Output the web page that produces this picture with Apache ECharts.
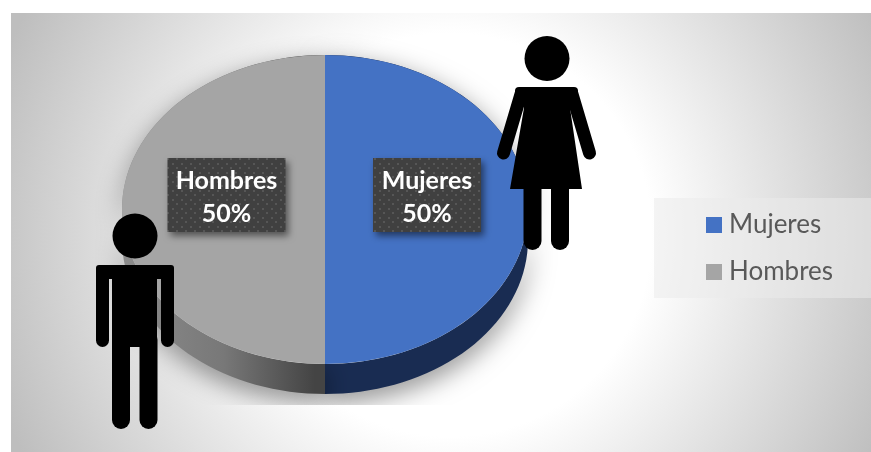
<!DOCTYPE html>
<html><head><meta charset="utf-8">
<style>html,body{margin:0;padding:0;background:#fff}#c{width:871px;height:452px}</style>
<script src="https://cdn.jsdelivr.net/npm/echarts@6/dist/echarts.min.js"></script>
</head><body><div id="c"></div>
<script>
const categories = ['Mujeres', 'Hombres'];
const shares = [50, 50];
const topColors = ['#4472c4', '#a5a5a5'];

const chart = echarts.init(document.getElementById('c'), null, {renderer:'canvas'});
const total = shares.reduce((a,b)=>a+b,0);
const CX=325, CY=209.5, RX=203, RY=154.5, DEPTH=30;

const tile = document.createElement('canvas'); tile.width=9; tile.height=9;
(function(){const g=tile.getContext('2d');g.fillStyle='#404040';g.fillRect(0,0,9,9);
 g.fillStyle='#565656';g.fillRect(1,1,2,2);g.fillRect(5,5,2,2);})();

function sliceRenderer(i){
  return function(params, api){
    const v = api.value(0);
    let before = 0; for(let k=0;k<i;k++) before += shares[k];
    const a0 = before/total*2*Math.PI, a1 = (before+v)/total*2*Math.PI;
    const pt = (a,dy)=>[CX+RX*Math.sin(a), CY-RY*Math.cos(a)+dy];
    const pts=[]; const n=72;
    for(let s=0;s<=n;s++) pts.push(pt(a0+(a1-a0)*s/n,DEPTH));
    for(let s=n;s>=0;s--) pts.push(pt(a0+(a1-a0)*s/n,0));
    const sideFill = i===0 ? '#192c52'
      : new echarts.graphic.LinearGradient(0,0,1,0,[{offset:0,color:'#8c8c8c'},{offset:0.5,color:'#787878'},{offset:0.95,color:'#444444'},{offset:1,color:'#444444'}]);
    const mid=(a0+a1)/2;
    const lx = CX+RX*0.5*Math.sin(mid) + (i===0?0.5:3), ly = CY-14.5;
    const w = i===0?108:118, h=74;
    return {type:'group',children:[
      {type:'polygon',z2:0,shape:{points:pts},style:{fill:sideFill,shadowBlur:26,shadowOffsetY:8,shadowColor:'rgba(0,0,0,0.45)'}},
      {type:'sector',z2:1,x:CX,y:CY,scaleY:RY/RX,
        shape:{cx:0,cy:0,r0:0,r:RX,startAngle:a0-Math.PI/2,endAngle:a1-Math.PI/2,clockwise:true},
        style:{fill:topColors[i]}},
      {type:'rect',z2:2,shape:{x:lx-w/2,y:ly-h/2,width:w,height:h},
        style:{fill:{image:tile,repeat:'repeat'},shadowBlur:7,shadowOffsetX:3,shadowOffsetY:4,shadowColor:'rgba(0,0,0,0.5)'}},
      {type:'text',z2:3,x:lx,y:ly+2.5,style:{text:categories[i]+'\n'+Math.round(v/total*100)+'%',
        fill:'#fff',font:'bold 25px Lato',lineHeight:33,align:'center',verticalAlign:'middle'}}
    ]};
  };
}

const black='#000';
const limb=(x1,y1,x2,y2,w)=>({type:'line',z:20,shape:{x1,y1,x2,y2},style:{stroke:black,lineWidth:w,lineCap:'round'}});
const figures=[
  {type:'circle',z:20,shape:{cx:547,cy:58.5,r:22.5},style:{fill:black}},
  {type:'rect',z:20,shape:{x:515,y:87,width:63,height:16,r:4},style:{fill:black}},
  {type:'polygon',z:20,shape:{points:[[524,90],[570,90],[570,108],[582,189],[510,189],[524,108]]},style:{fill:black}},
  limb(521,94,503.5,153,13), limb(572,94,589.5,153,13),
  limb(532.5,185,532.5,241,18), limb(560,185,560,241,18),
  {type:'circle',z:20,shape:{cx:135,cy:236,r:22.5},style:{fill:black}},
  {type:'rect',z:20,shape:{x:96,y:265,width:78,height:14,r:3},style:{fill:black}},
  {type:'rect',z:20,shape:{x:112,y:265,width:45,height:82},style:{fill:black}},
  limb(102.5,272,102.5,340.5,13), limb(167.5,272,167.5,340.5,13),
  limb(121,340,121,420,18), limb(148.5,340,148.5,420,18)
];
const bgFill=()=>new echarts.graphic.RadialGradient(450,235,480,[{offset:0.42,color:'#ffffff'},{offset:1,color:'#bebebe'}],true);

chart.setOption({
  animation:false,
  legend:{orient:'vertical',left:701,top:207,itemWidth:16,itemHeight:16,itemGap:21,icon:'rect',
    data:categories,selectedMode:false,
    textStyle:{color:'#595959',fontFamily:'Lato',fontSize:26,padding:[0,0,0,2]}},
  graphic:{elements:[
    {type:'rect',z:0,shape:{x:11,y:13,width:860,height:439},style:{fill:bgFill()}},
    {type:'rect',z:1,shape:{x:654,y:198,width:217,height:100},style:{fill:'rgba(235,235,235,0.55)'}},
    {type:'rect',z:6,shape:{x:11,y:405,width:860,height:47},style:{fill:bgFill()}},
    ...figures
  ]},
  series:categories.map((name,i)=>({
    type:'custom',name,coordinateSystem:'none',z:5,
    itemStyle:{color:topColors[i]},
    renderItem:sliceRenderer(i),data:[[shares[i]]]
  }))
});
</script></body></html>
